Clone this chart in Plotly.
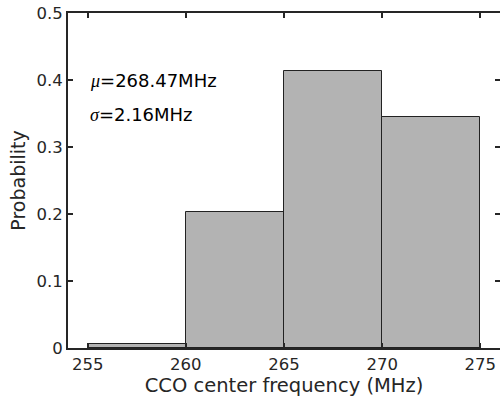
import plotly.graph_objects as go

bin_edges = [255, 260, 265, 270, 275]
probabilities = [0.0065, 0.2035, 0.4135, 0.345]
x_ticks = [255, 260, 265, 270, 275]
y_ticks = [0, 0.1, 0.2, 0.3, 0.4, 0.5]
mu_text = "268.47MHz"
sigma_text = "2.16MHz"

centers = [(a + b) / 2 for a, b in zip(bin_edges[:-1], bin_edges[1:])]
widths = [b - a for a, b in zip(bin_edges[:-1], bin_edges[1:])]

fig = go.Figure()
fig.add_trace(go.Bar(
    x=centers, y=probabilities, width=widths,
    marker=dict(color="#b3b3b3", line=dict(color="#222222", width=1)),
    showlegend=False,
))

font = "DejaVu Sans"
axis_common = dict(
    showline=True, linecolor="#262626", linewidth=2, mirror="ticks",
    ticks="inside", ticklen=5, tickwidth=2, tickcolor="#262626",
    showgrid=False, zeroline=False, automargin=False,
    tickfont=dict(family=font, size=16.5, color="#262626"),
)

fig.update_layout(
    width=500, height=405,
    margin=dict(l=68, r=0, t=13, b=57),
    plot_bgcolor="white", paper_bgcolor="white",
    bargap=0,
    xaxis=dict(range=[254, 276], tickvals=x_ticks,
               title=dict(text="CCO center frequency (MHz)", font=dict(family=font, size=19.5, color="#262626"), standoff=6),
               **axis_common),
    yaxis=dict(range=[0, 0.5], tickvals=y_ticks, ticktext=[f"{v:g}" for v in y_ticks],
               title=dict(text="Probability", font=dict(family=font, size=19, color="#262626"), standoff=6),
               **axis_common),
)

greek = "font-family:'Liberation Serif'"
fig.add_annotation(x=255, y=0.4, xref="x", yref="y", xanchor="left", yanchor="middle",
                   text=f"<i style=\"{greek}\">μ</i>={mu_text}", showarrow=False,
                   font=dict(family=font, size=18, color="black"))
fig.add_annotation(x=255, y=0.348, xref="x", yref="y", xanchor="left", yanchor="middle",
                   text=f"<i style=\"{greek}\">σ</i>={sigma_text}", showarrow=False,
                   font=dict(family=font, size=18, color="black"))

fig.write_html("out.html", config={"displayModeBar": False},
               post_script="document.body.style.margin='0';document.body.style.overflow='hidden';")
